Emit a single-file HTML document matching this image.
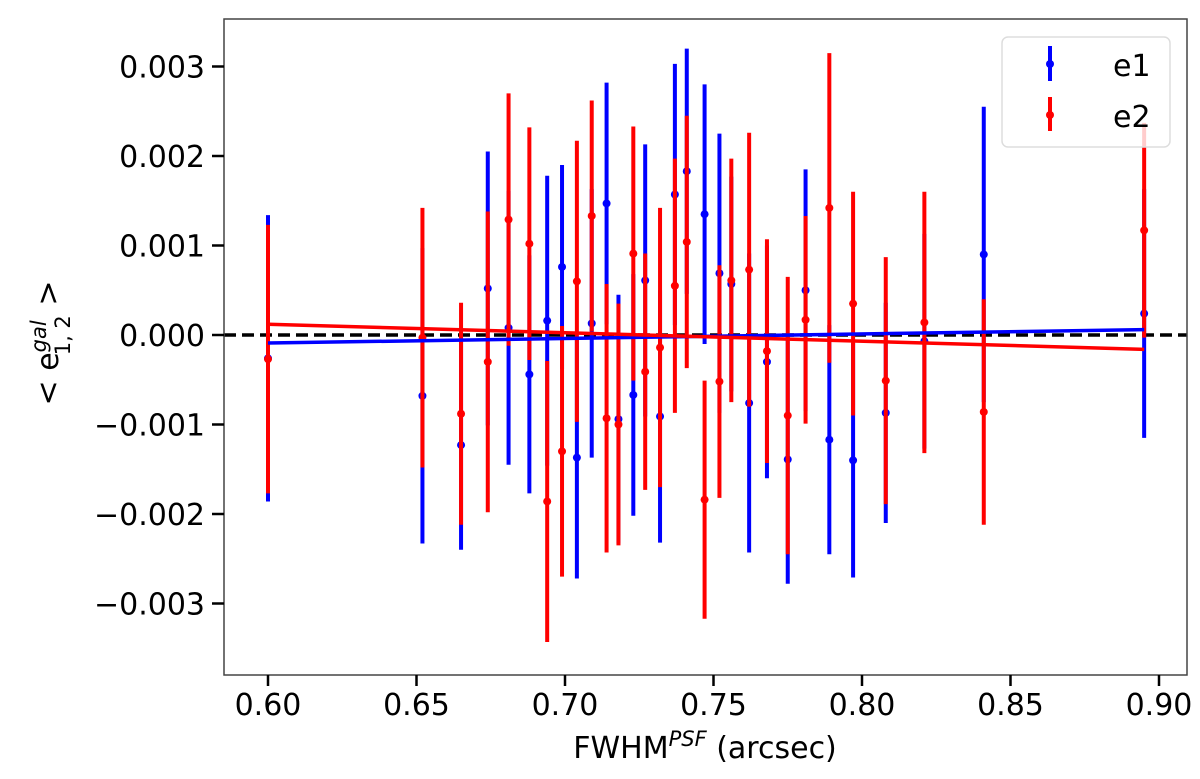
<!DOCTYPE html>
<html><head><meta charset="utf-8"><style>
body{margin:0;background:#fff}
svg text{font-family:"DejaVu Sans","Liberation Sans",sans-serif;fill:#000}
</style></head><body>
<svg id="chart" width="1200" height="774" viewBox="0 0 1200 774">
<rect x="0" y="0" width="1200" height="774" fill="#fff"/>
<g id="marks"></g>
<rect x="224" y="19" width="963" height="656" fill="none" stroke="#444" stroke-width="1.5"/>
<g id="axes"></g>
<g>
<rect x="1002" y="37" width="168" height="110" rx="6" fill="#fff" fill-opacity="0.8" stroke="#ddd" stroke-width="1.5"/>
<g><line x1="1050" y1="46" x2="1050" y2="81" stroke="#0000ff" stroke-width="4"/><circle cx="1050" cy="64" r="4" fill="#0000ff"/><text x="1113" y="76" font-size="30">e1</text></g>
<g><line x1="1050" y1="97" x2="1050" y2="131" stroke="#ff0000" stroke-width="4"/><circle cx="1050" cy="115" r="4" fill="#ff0000"/><text x="1113" y="127" font-size="30">e2</text></g>
</g>
<text x="705" y="758" font-size="30" text-anchor="middle">FWHM<tspan font-size="21" font-style="italic" dy="-12">PSF</tspan><tspan dy="12"> (arcsec)</tspan></text>
<text transform="translate(58,343) rotate(-90)" font-size="30" text-anchor="middle">&lt; e<tspan font-size="21" font-style="italic" dy="-12">gal</tspan><tspan font-size="21" dy="24" dx="-35">1, 2</tspan><tspan dy="-12"> &gt;</tspan></text>
</svg>
<script>
const xs=[0.600,0.652,0.665,0.674,0.681,0.688,0.694,0.699,0.704,0.709,0.714,0.718,0.723,0.727,0.732,0.737,0.741,0.747,0.752,0.756,0.762,0.768,0.775,0.781,0.789,0.797,0.808,0.821,0.841,0.895];
const e1=[-0.26,-0.68,-1.23,0.52,0.08,-0.44,0.16,0.76,-1.37,0.13,1.47,-0.94,-0.67,0.61,-0.91,1.57,1.83,1.35,0.69,0.57,-0.76,-0.30,-1.39,0.50,-1.17,-1.40,-0.87,-0.07,0.90,0.24];
const e1err=[1.6,1.65,1.17,1.53,1.53,1.33,1.62,1.14,1.35,1.5,1.35,1.39,1.35,1.52,1.41,1.46,1.37,1.45,1.56,1.2,1.67,1.3,1.39,1.35,1.28,1.31,1.23,1.2,1.65,1.39];
const e2=[-0.27,-0.03,-0.88,-0.30,1.29,1.02,-1.86,-1.30,0.60,1.33,-0.93,-1.00,0.91,-0.41,-0.14,0.55,1.04,-1.84,-0.52,0.61,0.73,-0.18,-0.90,0.17,1.42,0.35,-0.51,0.14,-0.86,1.17];
const e2err=[1.5,1.45,1.24,1.68,1.41,1.3,1.57,1.4,1.57,1.29,1.5,1.35,1.42,1.32,1.56,1.42,1.41,1.33,1.3,1.36,1.53,1.25,1.55,1.16,1.73,1.25,1.38,1.46,1.26,1.2];
const fitX=[0.600,0.895];
const fitE1=[-0.09,0.06];
const fitE2=[0.12,-0.16];
const xTicks=[0.60,0.65,0.70,0.75,0.80,0.85,0.90];
const yTicks=[-3,-2,-1,0,1,2,3];
const yTickLabels=["\u22120.003","\u22120.002","\u22120.001","0.000","0.001","0.002","0.003"];
const X=v=>268+(v-0.60)/0.05*148.5;
const Y=v=>335-v*89.5;
const NS='http://www.w3.org/2000/svg';
const marks=document.getElementById('marks'),axes=document.getElementById('axes');
function mk(tag,attrs,parent){const e=document.createElementNS(NS,tag);for(const k in attrs)e.setAttribute(k,attrs[k]);parent.appendChild(e);return e;}
const zl=mk('line',{x1:224,x2:1187,y1:Y(0),y2:Y(0),stroke:'#000','stroke-width':3.5,'stroke-dasharray':'12,6'},marks);


function series(vals,errs,color,name){
 const g=mk('g',{},marks);
 
 
 xs.forEach((x,i)=>{
  const l=mk('line',{x1:X(x),x2:X(x),y1:Y(vals[i]+errs[i]),y2:Y(vals[i]-errs[i]),stroke:color,'stroke-width':4},g);
  
  
  const c=mk('circle',{cx:X(x),cy:Y(vals[i]),r:4,fill:color},g);
  
  
 });
}
series(e1,e1err,'#0000ff','e1');
series(e2,e2err,'#ff0000','e2');
const f1=mk('line',{x1:X(fitX[0]),x2:X(fitX[1]),y1:Y(fitE1[0]),y2:Y(fitE1[1]),stroke:'#0000ff','stroke-width':3.5},marks);


const f2=mk('line',{x1:X(fitX[0]),x2:X(fitX[1]),y1:Y(fitE2[0]),y2:Y(fitE2[1]),stroke:'#ff0000','stroke-width':3.5},marks);


xTicks.forEach(t=>{
 const l=mk('line',{x1:X(t),x2:X(t),y1:675,y2:686,stroke:'#000','stroke-width':2.5},axes);
 
 
 const tx=mk('text',{x:X(t),y:715,'font-size':30,'text-anchor':'middle'},axes);
 tx.textContent=t.toFixed(2);
 
 
});
yTicks.forEach((t,i)=>{
 const l=mk('line',{x1:212,x2:224,y1:Y(t),y2:Y(t),stroke:'#000','stroke-width':2.5},axes);
 
 
 const tx=mk('text',{x:205,y:Y(t)+11,'font-size':30,'text-anchor':'end'},axes);
 tx.textContent=yTickLabels[i];
 
 
});
</script>
</body></html>
